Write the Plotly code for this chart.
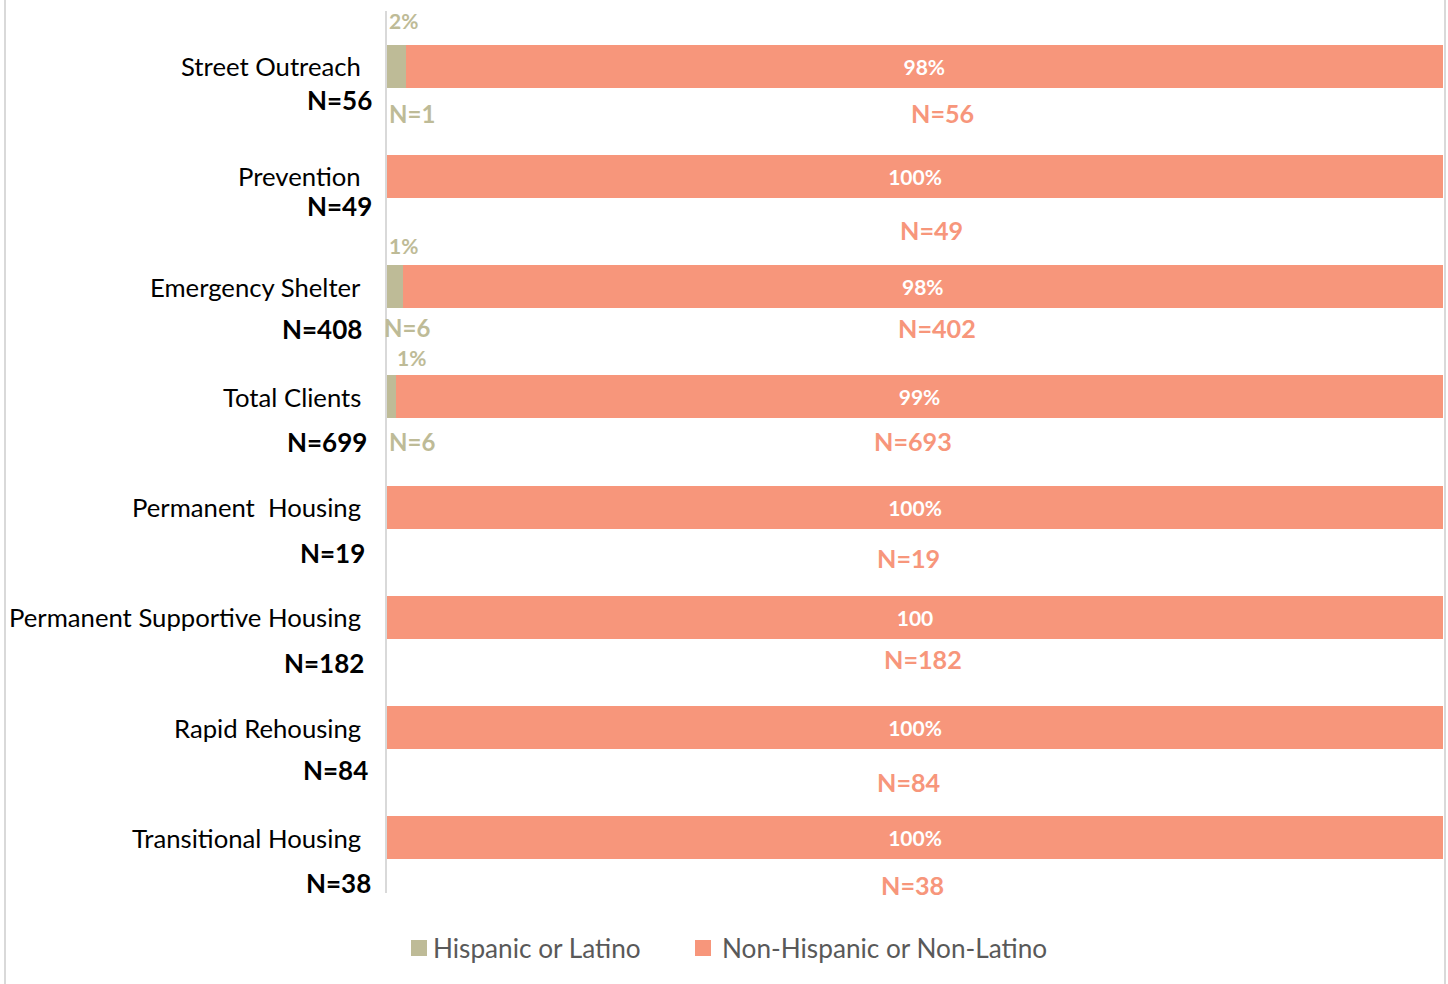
import plotly.graph_objects as go

# Program categories (top to bottom)
categories = ["Street Outreach", "Prevention", "Emergency Shelter", "Total Clients",
              "Permanent\u00a0 Housing", "Permanent Supportive Housing",
              "Rapid Rehousing", "Transitional Housing"]
program_n = ["N=56", "N=49", "N=408", "N=699", "N=19", "N=182", "N=84", "N=38"]

# Client counts by ethnicity
hispanic_n = [1, 0, 6, 6, 0, 0, 0, 0]
non_hispanic_n = [56, 49, 402, 693, 19, 182, 84, 38]

# Printed percentage labels
hispanic_pct = ["2%", "", "1%", "1%", "", "", "", ""]
non_hispanic_pct = ["98%", "100%", "98%", "99%", "100%", "100", "100%", "100%"]

series_names = ["Hispanic or Latino", "Non-Hispanic or Non-Latino"]

TAN = "#BEBB97"
SALMON = "#F7967B"
FONT = "Lato"

# label placement (pixel offsets from bar centre)
name_n_dy = [34, 30, 42, 45, 46, 46, 42, 45]
name_n_dx = [13, 13, 3, 8, 6, 5, 9, 12]
non_n_x = [52.6, 51.6, 52.1, 49.8, 49.4, 50.8, 49.4, 49.8]
non_n_dy = [47, 54, 41, 44, 51, 42, 54, 47]
hisp_pct_dy = [-46, 0, -41, -39, 0, 0, 0, 0]
hisp_pct_dx = [0, 0, 0, 8, 0, 0, 0, 0]
hisp_n_dy = [47, 0, 41, 45, 0, 0, 0, 0]
hisp_n_dx = [0, 0, -5, 0, 0, 0, 0, 0]

W, H = 1448, 984
L, R, T, B = 387, 5, 11, 91
pw = W - L - R
ph = H - T - B

fig = go.Figure()
fig.add_trace(go.Bar(
    y=categories, x=hispanic_n, orientation="h", name=series_names[0],
    marker=dict(color=TAN, line=dict(width=0)), hoverinfo="skip",
))
fig.add_trace(go.Bar(
    y=categories, x=non_hispanic_n, orientation="h", name=series_names[1],
    marker=dict(color=SALMON, line=dict(width=0)),
    text=non_hispanic_pct, textposition="inside", insidetextanchor="middle",
    textangle=0,
    textfont=dict(family=FONT, size=21, color="white", weight="bold"),
    hoverinfo="skip",
))

ann = []
for i, cat in enumerate(categories):
    # category name and program size to the left of the axis
    ann.append(dict(x=0, y=cat, xref="x", yref="y", text=cat, showarrow=False,
                    xanchor="right", yanchor="middle", xshift=-24,
                    font=dict(family=FONT, size=25.7, color="#000000")))
    ann.append(dict(x=0, y=cat, xref="x", yref="y", text="<b>%s</b>" % program_n[i],
                    showarrow=False, xanchor="right", yanchor="middle",
                    xshift=-26 + name_n_dx[i], yshift=-name_n_dy[i],
                    font=dict(family=FONT, size=26, color="#000000")))
    # non-hispanic count under the bar
    ann.append(dict(x=non_n_x[i], y=cat, xref="x", yref="y",
                    text="<b>N=%d</b>" % non_hispanic_n[i], showarrow=False,
                    xanchor="center", yanchor="middle", yshift=-non_n_dy[i],
                    font=dict(family=FONT, size=25.2, color=SALMON)))
    if hispanic_n[i] > 0:
        ann.append(dict(x=0, y=cat, xref="x", yref="y",
                        text="<b>%s</b>" % hispanic_pct[i], showarrow=False,
                        xanchor="left", yanchor="middle", xshift=hisp_pct_dx[i],
                        yshift=-hisp_pct_dy[i],
                        font=dict(family=FONT, size=21, color=TAN)))
        ann.append(dict(x=0, y=cat, xref="x", yref="y",
                        text="<b>N=%d</b>" % hispanic_n[i], showarrow=False,
                        xanchor="left", yanchor="middle", xshift=hisp_n_dx[i],
                        yshift=-hisp_n_dy[i],
                        font=dict(family=FONT, size=24, color=TAN)))

# legend drawn below the plot: square swatch + label
def px_x(p):
    return (p - L) / pw

def px_y(p):
    return 1 - (p - T) / ph

shapes = []
legend_items = [(411, 431, TAN), (695, 720, SALMON)]
for (sx, tx, col), label in zip(legend_items, series_names):
    shapes.append(dict(type="rect", xref="paper", yref="paper",
                       x0=px_x(sx), x1=px_x(sx + 16), y0=px_y(940), y1=px_y(956),
                       fillcolor=col, line=dict(width=0)))
    ann.append(dict(x=px_x(tx), y=px_y(948), xref="paper", yref="paper", text=label,
                    showarrow=False, xanchor="left", yanchor="middle",
                    font=dict(family=FONT, size=26.2, color="#595959")))

# outer frame lines
for fx in (px_x(5), px_x(1445)):
    shapes.append(dict(type="line", xref="paper", yref="paper",
                       x0=fx, x1=fx, y0=px_y(H + 5), y1=px_y(-5),
                       line=dict(color="#D9D9D9", width=2)))

fig.update_layout(
    width=W, height=H,
    margin=dict(l=L, r=R, t=T, b=B, autoexpand=False),
    paper_bgcolor="white", plot_bgcolor="white",
    barmode="stack", barnorm="percent", bargap=0.61,
    showlegend=False,
    xaxis=dict(range=[0, 100], visible=False, fixedrange=True),
    yaxis=dict(range=[7.5, -0.5], showticklabels=False, ticks="",
               showgrid=False, zeroline=False,
               showline=True, linecolor="#D9D9D9", linewidth=2),
    annotations=ann,
    uniformtext=dict(minsize=10, mode="show"),
    shapes=shapes,
)

fig.write_html("out.html")
